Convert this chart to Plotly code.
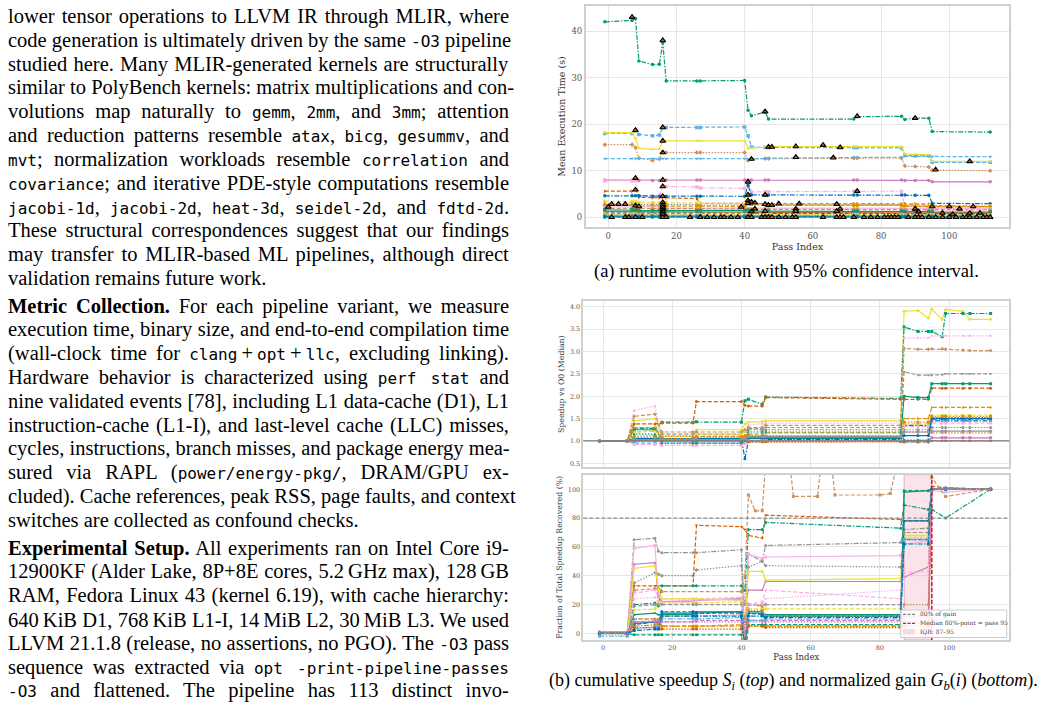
import plotly.graph_objects as go

W, H = 1040, 707
SERIF = "Liberation Serif"
MONO = "DejaVu Sans Mono"
PFONT = "DejaVu Serif"

# ---------------- left column text ----------------
def m(s):
    return f'<span style="font-family:{MONO};font-size:16px">{s}</span>'

PARA1 = [
    "lower tensor operations to LLVM IR through MLIR, where",
    f"code generation is ultimately driven by the same {m('-O3')} pipeline",
    "studied here. Many MLIR-generated kernels are structurally",
    "similar to PolyBench kernels: matrix multiplications and con-",
    f"volutions map naturally to {m('gemm')}, {m('2mm')}, and {m('3mm')}; attention",
    f"and reduction patterns resemble {m('atax')}, {m('bicg')}, {m('gesummv')}, and",
    f"{m('mvt')}; normalization workloads resemble {m('correlation')} and",
    f"{m('covariance')}; and iterative PDE-style computations resemble",
    f"{m('jacobi-1d')}, {m('jacobi-2d')}, {m('heat-3d')}, {m('seidel-2d')}, and {m('fdtd-2d')}.",
    "These structural correspondences suggest that our findings",
    "may transfer to MLIR-based ML pipelines, although direct",
    "validation remains future work.",
]
PARA2 = [
    "<b>Metric Collection.</b> For each pipeline variant, we measure",
    "execution time, binary size, and end-to-end compilation time",
    f"(wall-clock time for {m('clang')}\u2009+\u2009{m('opt')}\u2009+\u2009{m('llc')}, excluding linking).",
    f"Hardware behavior is characterized using {m('perf stat')} and",
    "nine validated events [78], including L1 data-cache (D1), L1",
    "instruction-cache (L1-I), and last-level cache (LLC) misses,",
    "cycles, instructions, branch misses, and package energy mea-",
    f"sured via RAPL ({m('power/energy-pkg/')}, DRAM/GPU ex-",
    "cluded). Cache references, peak RSS, page faults, and context",
    "switches are collected as confound checks.",
]
PARA3 = [
    "<b>Experimental Setup.</b> All experiments ran on Intel Core i9-",
    "12900KF (Alder Lake, 8P+8E cores, 5.2\u2009GHz max), 128\u2009GB",
    "RAM, Fedora Linux 43 (kernel 6.19), with cache hierarchy:",
    "640\u2009KiB D1, 768\u2009KiB L1-I, 14\u2009MiB L2, 30\u2009MiB L3. We used",
    f"LLVM 21.1.8 (release, no assertions, no PGO). The {m('-O3')} pass",
    f"sequence was extracted via {m('opt -print-pipeline-passes')}",
    f"{m('-O3')} and flattened. The pipeline has 113 distinct invo-",
]
CAPTION_A = "(a) runtime evolution with 95% confidence interval."
CAPTION_B = ("(b) cumulative speedup <i>S<sub>i</sub></i> (<i>top</i>) and normalized gain "
             "<i>G<sub>b</sub></i>(<i>i</i>) (<i>bottom</i>).")

# ---------------- (a) runtime evolution data ----------------
RT_PASS = [-1, 7, 8, 9, 13, 15, 16, 17, 26, 27, 40, 41, 42, 46, 47, 72, 73, 86, 87, 90, 94, 95, 112]
RT_01 = [42.0, 42.3, 42.7, 33.6, 32.8, 32.9, 37.5, 29.3, 29.3, 29.3, 29.4, 23.0, 21.8, 22.6, 21.1, 21.1, 21.6, 21.7, 21.0, 21.3, 21.3, 18.4, 18.3]
RT_02 = [18.0, 18.0, 18.6, 17.8, 17.5, 17.7, 19.3, 19.3, 19.3, 19.3, 19.4, 17.5, 15.1, 15.0, 15.0, 15.0, 15.0, 14.9, 13.3, 13.2, 13.2, 11.8, 11.8]
RT_03 = [18.2, 18.2, 17.0, 14.8, 14.6, 14.7, 16.4, 16.4, 16.4, 16.4, 16.4, 14.8, 14.9, 15.0, 15.2, 15.2, 15.2, 15.2, 13.6, 13.5, 13.4, 12.0, 12.0]
RT_04 = [15.6, 15.6, 15.0, 12.7, 12.2, 12.5, 13.9, 13.9, 13.9, 13.9, 13.9, 12.2, 12.5, 12.6, 12.6, 12.7, 12.7, 12.7, 11.0, 10.9, 10.8, 10.1, 10.0]
RT_05 = [12.6, 12.6, 12.6, 12.6, 12.6, 12.6, 12.6, 12.6, 12.6, 12.6, 12.6, 12.5, 12.6, 12.6, 12.7, 12.9, 12.9, 12.9, 13.1, 13.1, 13.1, 13.0, 13.0]
RT_06 = [8.0, 8.0, 8.0, 7.9, 7.9, 7.9, 8.0, 8.0, 8.0, 8.0, 8.0, 8.0, 8.0, 8.0, 8.0, 8.0, 8.0, 8.0, 7.9, 7.9, 7.9, 7.6, 7.6]
RT_07 = [7.8, 7.8, 7.9, 4.6, 4.5, 4.6, 6.6, 6.6, 6.5, 6.3, 6.2, 7.4, 5.4, 5.5, 5.5, 5.6, 5.6, 5.6, 1.6, 1.5, 1.5, 1.5, 1.5]
RT_08 = [5.6, 5.6, 5.9, 4.3, 4.2, 4.2, 4.3, 4.2, 4.0, 3.0, 3.0, 3.1, 3.0, 2.9, 2.9, 2.9, 2.9, 2.9, 2.9, 2.9, 2.8, 2.5, 2.3]
RT_09 = [4.6, 4.6, 4.6, 4.6, 4.5, 4.5, 4.5, 4.5, 4.5, 4.5, 4.5, 6.8, 4.8, 4.8, 4.8, 4.8, 4.8, 4.8, 4.8, 4.7, 4.7, 3.0, 2.9]
RT_10 = [3.4, 3.4, 3.3, 3.1, 3.1, 3.1, 3.2, 3.1, 3.0, 3.0, 3.0, 2.9, 2.8, 2.8, 2.7, 2.6, 2.6, 2.6, 2.5, 2.5, 2.5, 2.4, 2.4]
RT_11 = [2.9, 2.9, 2.8, 2.7, 2.7, 2.7, 2.8, 2.7, 2.7, 2.6, 2.6, 2.7, 2.6, 2.6, 2.6, 2.6, 2.6, 2.6, 2.4, 2.3, 2.3, 2.2, 2.2]
RT_12 = [2.6, 2.6, 2.5, 2.4, 2.4, 2.4, 2.5, 2.4, 2.4, 2.4, 2.3, 3.6, 3.2, 2.8, 2.6, 2.6, 2.6, 2.6, 2.4, 2.3, 2.3, 2.3, 2.3]
RT_13 = [2.2, 2.2, 2.2, 2.1, 2.1, 2.1, 2.2, 2.0, 2.0, 2.0, 2.0, 2.0, 2.0, 2.0, 2.0, 2.0, 2.0, 2.0, 1.9, 1.9, 1.9, 1.9, 1.9]
RT_14 = [1.9, 1.9, 1.8, 1.8, 1.8, 1.8, 1.8, 1.8, 1.8, 1.8, 1.8, 1.7, 1.7, 1.7, 1.7, 1.7, 1.7, 1.7, 1.6, 1.6, 1.6, 1.6, 1.6]
RT_15 = [1.6, 1.6, 1.5, 1.4, 1.4, 1.4, 1.5, 1.4, 1.4, 1.4, 1.4, 1.5, 1.3, 1.3, 1.3, 1.3, 1.3, 1.3, 1.2, 1.2, 1.2, 1.1, 1.1]
RT_16 = [1.2, 1.2, 1.2, 1.1, 1.1, 1.1, 1.1, 1.1, 1.1, 1.1, 1.1, 1.1, 1.0, 1.0, 1.0, 1.0, 1.0, 1.0, 0.9, 0.9, 0.9, 0.9, 0.9]
RT_17 = [0.9, 0.9, 0.9, 0.8, 0.8, 0.8, 0.9, 0.8, 0.8, 0.8, 0.8, 0.8, 0.8, 0.8, 0.8, 0.8, 0.8, 0.8, 0.7, 0.7, 0.7, 0.7, 0.7]
RT_18 = [0.7, 0.7, 0.7, 0.6, 0.6, 0.6, 0.7, 0.6, 0.6, 0.6, 0.6, 0.6, 0.6, 0.6, 0.6, 0.6, 0.6, 0.6, 0.5, 0.5, 0.5, 0.5, 0.5]
RT_19 = [0.5, 0.5, 0.5, 0.5, 0.5, 0.5, 0.5, 0.5, 0.5, 0.5, 0.5, 0.5, 0.4, 0.4, 0.4, 0.4, 0.4, 0.4, 0.4, 0.4, 0.4, 0.4, 0.4]
RT_20 = [0.4, 0.4, 0.4, 0.4, 0.4, 0.4, 0.4, 0.35, 0.35, 0.35, 0.35, 0.35, 0.35, 0.35, 0.35, 0.35, 0.35, 0.35, 0.3, 0.3, 0.3, 0.3, 0.3]
RT_21 = [0.3, 0.3, 0.3, 0.3, 0.3, 0.3, 0.3, 0.3, 0.3, 0.3, 0.3, 0.3, 0.25, 0.25, 0.25, 0.25, 0.25, 0.25, 0.25, 0.25, 0.25, 0.2, 0.2]
RT_22 = [0.2, 0.2, 0.2, 0.2, 0.2, 0.2, 0.2, 0.2, 0.2, 0.2, 0.2, 0.2, 0.2, 0.2, 0.2, 0.2, 0.2, 0.2, 0.15, 0.15, 0.15, 0.15, 0.15]
RT_23 = [0.12, 0.12, 0.12, 0.1, 0.1, 0.1, 0.1, 0.1, 0.1, 0.1, 0.1, 0.1, 0.1, 0.1, 0.1, 0.1, 0.1, 0.1, 0.1, 0.1, 0.1, 0.1, 0.1]
RT_24 = [0.05, 0.05, 0.05, 0.05, 0.05, 0.05, 0.05, 0.05, 0.05, 0.05, 0.05, 0.05, 0.05, 0.05, 0.05, 0.05, 0.05, 0.05, 0.05, 0.05, 0.05, 0.05, 0.05]
RT_SERIES = [RT_01, RT_02, RT_03, RT_04, RT_05, RT_06, RT_07, RT_08, RT_09, RT_10, RT_11, RT_12,
             RT_13, RT_14, RT_15, RT_16, RT_17, RT_18, RT_19, RT_20, RT_21, RT_22, RT_23, RT_24]

# significant-change markers (pass index, mean time)
SIG_PASS = [7, 16, 46, 73, 90, 8, 16, 16, 16, 42, 47, 48, 55, 63, 68, 55, 66, 96, 106,
            8, 16, 8, 16, 41, 16, 41, 46, 73,
            0, 1, 3, 5, 8, 9, 16, 16, 16, 16, 16, 16, 39, 41, 41, 42, 43, 42, 43, 46, 46, 47, 48,
            50, 55, 55, 56, 67, 67, 68, 90, 91, 95, 98, 100, 101, 103, 106, 107, 109,
            1, 5, 6, 8, 10, 16, 17, 24, 27, 29, 31, 33, 34, 36, 38, 41, 42, 45, 46, 47, 48, 50,
            52, 54, 55, 63, 67, 68, 69, 72, 75, 77, 79, 81, 82, 83, 84, 85, 88, 90, 91, 92, 94,
            96, 98, 100, 102, 104, 105, 106, 108, 110, 111, 112]
SIG_TIME = [43.0, 38.0, 22.7, 21.7, 21.3, 18.7, 19.3, 16.4, 13.9, 12.5, 15.1, 15.1, 15.2, 15.5, 15.0, 12.9, 12.8, 10.2, 12.0,
            8.4, 8.0, 5.9, 6.6, 7.6, 4.5, 4.8, 4.8, 5.6,
            2.2, 2.8, 2.8, 2.8, 2.5, 2.3, 3.2, 2.6, 2.1, 1.6, 1.1, 0.6, 2.2, 3.6, 3.0, 3.3, 3.1, 1.2, 1.8, 2.8, 1.3, 2.6, 2.6,
            2.9, 1.8, 1.3, 2.9, 1.3, 2.8, 1.8, 1.8, 1.2, 2.3, 0.9, 2.3, 0.6, 1.8, 0.9, 2.3, 0.9,
            0, 0, 0, 0, 0, 0, 0, 0, 0, 0, 0, 0, 0, 0, 0, 0, 0, 0, 0, 0, 0, 0,
            0, 0, 0, 0, 0, 0, 0, 0, 0, 0, 0, 0, 0, 0, 0, 0, 0, 0, 0, 0, 0,
            0, 0, 0, 0, 0, 0, 0, 0, 0, 0, 0]

# ---------------- (b, top) cumulative speedup ----------------
SP_PASS = [-1, 7, 9, 15, 17, 26, 27, 40, 41, 42, 46, 47, 86, 87, 91, 94, 95, 98, 99, 104, 106, 112]
SP_01 = [1.0, 1.0, 1.45, 1.5, 1.1, 1.1, 1.25, 1.25, 1.38, 1.42, 1.43, 1.45, 1.45, 3.9, 3.92, 3.75, 3.95, 3.72, 3.94, 3.9, 3.72, 3.72]
SP_02 = [1.0, 1.0, 1.28, 1.28, 1.42, 1.42, 1.43, 1.42, 1.9, 1.93, 1.82, 1.98, 1.95, 3.55, 3.45, 3.45, 3.45, 3.33, 3.85, 3.85, 3.85, 3.85]
SP_03 = [1.0, 1.0, 1.68, 1.78, 1.0, 0.95, 0.95, 0.95, 1.1, 1.35, 1.38, 1.4, 1.4, 3.3, 3.3, 3.3, 3.35, 3.35, 3.35, 3.35, 3.35, 3.35]
SP_04 = [1.0, 1.0, 1.55, 1.6, 1.2, 1.2, 1.2, 1.2, 1.25, 1.3, 1.3, 1.35, 1.35, 3.07, 3.05, 3.05, 3.06, 3.06, 3.05, 3.03, 3.02, 3.02]
SP_05 = [1.0, 1.0, 1.2, 1.22, 1.15, 1.15, 1.15, 1.15, 1.2, 1.28, 1.28, 1.3, 1.3, 2.55, 2.47, 2.47, 2.47, 2.48, 2.5, 2.5, 2.5, 2.5]
SP_06 = [1.0, 1.0, 1.38, 1.38, 1.4, 1.4, 1.88, 1.88, 1.8, 1.78, 1.78, 1.97, 1.93, 1.93, 1.93, 1.93, 2.18, 2.18, 2.18, 2.18, 2.18, 2.18]
SP_07 = [1.0, 1.0, 1.25, 1.25, 1.05, 1.05, 1.05, 1.05, 1.05, 1.05, 1.05, 1.05, 1.05, 2.0, 1.97, 1.97, 2.28, 2.28, 2.28, 2.28, 2.28, 2.28]
SP_08 = [1.0, 1.0, 1.3, 1.3, 1.1, 1.1, 1.1, 1.1, 1.12, 1.15, 1.15, 1.18, 1.18, 1.5, 1.5, 1.5, 1.75, 1.75, 1.75, 1.75, 1.75, 1.75]
SP_09 = [1.0, 1.0, 1.02, 1.02, 1.02, 1.02, 1.03, 1.03, 0.6, 1.0, 1.0, 1.03, 1.03, 1.35, 1.35, 1.35, 1.45, 1.45, 1.45, 1.45, 1.45, 1.45]
SP_10 = [1.0, 1.0, 1.0, 1.0, 1.0, 1.0, 1.0, 1.0, 1.0, 1.0, 1.0, 1.0, 1.0, 1.0, 1.0, 1.0, 1.07, 1.07, 1.07, 1.07, 1.07, 1.07]
SP_11 = [1.0, 1.0, 1.2, 1.22, 1.1, 1.1, 1.15, 1.15, 1.2, 1.25, 1.25, 1.25, 1.25, 1.38, 1.38, 1.38, 1.58, 1.58, 1.58, 1.58, 1.58, 1.58]
SP_12 = [1.0, 1.0, 0.95, 0.95, 0.95, 0.95, 0.95, 0.95, 0.95, 0.98, 0.98, 1.0, 1.0, 0.97, 0.97, 0.97, 1.48, 1.48, 1.48, 1.48, 1.48, 1.48]
SP_13 = [1.0, 1.0, 1.05, 1.05, 1.1, 1.1, 1.1, 1.1, 1.1, 1.12, 1.12, 1.12, 1.12, 1.2, 1.2, 1.2, 1.18, 1.18, 1.18, 1.18, 1.18, 1.18]
SP_14 = [1.0, 1.0, 1.1, 1.12, 1.05, 1.05, 1.05, 1.05, 1.05, 1.25, 1.25, 1.25, 1.25, 1.25, 1.25, 1.25, 1.3, 1.3, 1.3, 1.3, 1.3, 1.3]
SP_15 = [1.0, 1.0, 0.92, 0.92, 0.9, 0.9, 0.9, 0.9, 0.95, 1.0, 1.0, 1.0, 1.0, 1.32, 1.32, 1.32, 1.4, 1.4, 1.4, 1.4, 1.4, 1.4]
SP_16 = [1.0, 1.0, 1.15, 1.15, 0.95, 0.95, 0.95, 0.95, 1.0, 1.2, 1.2, 1.2, 1.2, 1.02, 1.02, 1.02, 1.52, 1.52, 1.52, 1.52, 1.52, 1.52]
SP_17 = [1.0, 1.0, 1.05, 1.05, 1.05, 1.05, 1.05, 1.05, 1.05, 1.07, 1.07, 1.07, 1.07, 1.12, 1.12, 1.12, 1.5, 1.5, 1.5, 1.5, 1.5, 1.5]
SP_18 = [1.0, 1.0, 1.08, 1.08, 1.05, 1.05, 1.08, 1.08, 1.1, 1.1, 1.1, 1.1, 1.1, 1.42, 1.42, 1.42, 1.55, 1.55, 1.55, 1.55, 1.55, 1.55]
SP_19 = [1.0, 1.0, 1.0, 1.0, 1.0, 1.0, 1.0, 1.0, 1.0, 0.97, 0.97, 0.97, 0.97, 0.98, 0.98, 0.98, 1.0, 1.0, 1.0, 1.0, 1.0, 1.0]
SP_20 = [1.0, 1.0, 1.03, 1.03, 1.03, 1.03, 1.03, 1.03, 1.05, 1.1, 1.1, 1.1, 1.1, 1.2, 1.2, 1.2, 1.22, 1.22, 1.22, 1.22, 1.22, 1.22]
SP_SERIES = [SP_01, SP_02, SP_03, SP_04, SP_05, SP_06, SP_07, SP_08, SP_09, SP_10,
             SP_11, SP_12, SP_13, SP_14, SP_15, SP_16, SP_17, SP_18, SP_19, SP_20]
SP_BASELINE = 1.0

# ---------------- (b, bottom) normalized gain ----------------
GN_PASS = [-1, 7, 9, 15, 16, 17, 26, 27, 40, 41, 42, 46, 47, 86, 87, 94, 95, 99, 112]
GN_01 = [0, 0, 65, 66, 57, 56, 56, 56, 58, -10, 55, 50, 61, 63, 72, 73, 100, 101, 100]
GN_02 = [1, 1, 59, 61, 25, 22, 23, 23, 24, -5, 55, 52, 53, 54, 62, 64, 99, 98, 100]
GN_03 = [1, 1, 48, 49, 25, 22, 22, 23, 24, 20, 30, 30, 36, 36, 39, 46, 100, 100, 100]
GN_04 = [-1, -1, 35, 42, 41, 40, 40, 44, 47, 20, 46, 50, 47, 46, 66, 66, 100, 101, 100]
GN_05 = [0, 0, 33, 33, 33, 33, 33, 75, 74, 72, 68, 66, 82, 79, 78, 78, 102, 101, 100]
GN_06 = [0, 0, 20, 21, 19, 33, 33, 33, 33, 30, 72, 72, 77, 73, 89, 86, 86, 80, 100]
# tan series wanders above the plotted range, so it keeps its own pass list
GN_07_PASS = [-1, 7, 9, 15, 16, 17, 40, 41, 42, 44, 46, 47, 54, 55, 62, 63, 66, 67, 80, 83, 85, 87, 94, 95, 99, 112]
GN_07 = [0, 0, 30, 31, 31, 29, 29, 40, 96, 85, 85, 118, 118, 95, 95, 118, 118, 96, 96, 97, 118, 118, 118, 108, 95, 100]
GN_08 = [1, 1, 28, 30, 25, 24, 24, 24, 25, 10, 20, 22, 30, 24, 42, 43, 100, 100, 100]
GN_09 = [0, 0, 45, 47, 30, 24, 24, 24, 23, 10, 43, 43, 37, 38, 68, 68, 100, 100, 100]
GN_10 = [0, 0, 16, 17, 22, 21, 21, 21, 22, 10, 17, 17, 17, 17, 67, 67, 100, 100, 100]
GN_11 = [0, 0, 13, 14, 13, 13, 13, 14, 15, 5, 14, 14, 13, 13, 98, 99, 100, 100, 100]
GN_12 = [0, 0, 6, 8, 7, 15, 15, 14, 14, 5, 14, 13, 12, 12, 65, 65, 100, 100, 100]
GN_13 = [0, 0, 7, 8, 8, 14, 14, 15, 15, 5, 15, 15, 12, 12, 78, 78, 100, 100, 100]
GN_14 = [1, 1, 8, 9, 9, 12, 12, 12, 13, 5, 16, 16, 12, 12, 20, 20, 100, 100, 100]
GN_15 = [0, 0, 5, 6, 6, 5, 5, 5, 5, 0, 20, 19, 5, 5, 7, 7, 100, 100, 100]
GN_16 = [0, 0, 8, 8, 7, 8, 8, 9, 9, 0, 9, 9, 9, 9, 12, 12, 100, 100, 100]
GN_17 = [0, 0, -1, -1, -1, -1, -1, -1, -1, -20, 6, 6, 6, 6, 99, 99, 100, 100, 100]
GN_18 = [-2, -2, 3, 5, 5, 10, 10, 10, 11, -10, 9, 9, 10, 10, 65, 65, 100, 100, 100]
GN_19 = [0, 0, 10, 10, 10, 5, 5, 5, 6, -5, 5, 5, 5, 5, 8, 8, 100, 100, 100]
GN_20 = [0, 0, 19, 20, 20, 20, 20, 20, 20, 10, 20, 20, 20, 20, 70, 70, 100, 100, 100]
GN_21 = [0, 0, 24, 25, 22, 22, 22, 23, 23, 5, 20, 20, 24, 30, 40, 40, 100, 100, 100]
GN_22 = [0, 0, 4, 4, 3, 3, 3, 3, 3, -5, 5, 5, 4, 4, 5, 5, 100, 100, 100]
GN_23 = [0, 0, 2, 3, 3, 12, 12, 12, 12, -10, 12, 12, 11, 11, 62, 62, 100, 100, 100]
GN_24 = [0, 0, 10, 10, 9, 8, 8, 8, 8, 0, 8, 8, 8, 8, 12, 12, 100, 100, 100]
GN_SERIES = [GN_01, GN_02, GN_03, GN_04, GN_05, GN_06, GN_07, GN_08, GN_09, GN_10, GN_11, GN_12,
             GN_13, GN_14, GN_15, GN_16, GN_17, GN_18, GN_19, GN_20, GN_21, GN_22, GN_23, GN_24]
GN_PASSES = [GN_PASS] * 6 + [GN_07_PASS] + [GN_PASS] * 17
GAIN_THRESHOLD = 80
MEDIAN_PASS = 95
IQR_PASS = [87, 95]
LEGEND_LABELS = ["80% of gain", "Median 80%-point = pass 95", "IQR: 87\u201395"]

# ---------------- styles ----------------
PAL = ['#0173B2', '#DE8F05', '#029E73', '#D55E00', '#CC78BC',
       '#CA9161', '#FBAFE4', '#949494', '#ECE133', '#56B4E9']
DASH = {'-': 'solid', '--': '4px,2px', '-.': '5px,1.5px,1.5px,1.5px', ':': '1.5px,1.5px'}
SYMS = ['circle', 'square', 'triangle-up', 'diamond', 'triangle-down', 'circle', 'square', 'triangle-right']
RT_STYLE = [(2, '-.'), (9, '--'), (8, '-'), (5, ':'), (9, '--'), (4, '-'), (6, '-.'), (3, '--'),
            (0, '-.'), (8, '--'), (7, ':'), (1, '--'), (6, '-'), (5, '--'), (2, '-'), (3, '-'),
            (0, '--'), (8, ':'), (1, ':'), (7, '-.'), (4, '--'), (9, '-'), (2, '--'), (0, '-')]
SP_STYLE = [(8, '-'), (2, '-.'), (6, ':'), (5, '--'), (7, '--'), (3, '--'), (2, '-'), (1, '--'),
            (0, '-.'), (4, '-'), (8, '--'), (9, '--'), (5, ':'), (7, ':'), (6, '--'), (2, ':'),
            (0, '-'), (1, ':'), (3, ':'), (7, '-')]
GN_STYLE = [(7, '-.'), (6, '-'), (4, '-'), (7, ':'), (3, '--'), (2, '-.'), (5, '--'), (6, '--'),
            (8, '-'), (8, '--'), (2, '-'), (0, '--'), (0, '-'), (5, ':'), (1, '-.'), (4, '--'),
            (2, '--'), (9, '-.'), (1, '--'), (7, '--'), (6, ':'), (3, ':'), (0, '-.'), (4, ':')]

fig = go.Figure()


def add_series(xss, series, styles, xa, ya, msize):
    for i, (xs, ys, (ci, ls)) in enumerate(zip(xss, series, styles)):
        fig.add_trace(go.Scatter(
            x=xs, y=ys, mode='lines+markers', xaxis=xa, yaxis=ya, showlegend=False,
            line=dict(color=PAL[ci], width=1.2, dash=DASH[ls]),
            marker=dict(color=PAL[ci], size=msize, symbol=SYMS[i % len(SYMS)], line=dict(width=0)),
            hoverinfo='skip'))


add_series([RT_PASS] * len(RT_SERIES), RT_SERIES, RT_STYLE, 'x', 'y', 3.5)
fig.add_trace(go.Scatter(
    x=SIG_PASS, y=SIG_TIME, mode='markers', xaxis='x', yaxis='y', showlegend=False,
    marker=dict(symbol='triangle-up', size=5, color='#b8641a', line=dict(color='black', width=1.1)),
    hoverinfo='skip'))
add_series([SP_PASS] * len(SP_SERIES), SP_SERIES, SP_STYLE, 'x2', 'y2', 3)
add_series(GN_PASSES, GN_SERIES, GN_STYLE, 'x3', 'y3', 3)

# ---------------- axes ----------------
GRID = '#e6e6e6'
FRAME = '#d0d0d0'


def ax(**kw):
    d = dict(showgrid=True, gridcolor=GRID, gridwidth=0.8, showline=True, linecolor=FRAME,
             linewidth=1.5, mirror=True, zeroline=False, ticks='')
    d.update(kw)
    return d


fig.update_layout(
    width=W, height=H, margin=dict(l=0, r=0, t=0, b=0),
    paper_bgcolor='white', plot_bgcolor='white', showlegend=False,
    xaxis=ax(domain=[585.7 / W, 1009.3 / W], range=[-6.6, 117.6], anchor='y', tick0=0, dtick=20,
             tickfont=dict(family=PFONT, size=8.5, color='#555'),
             title=dict(text='Pass Index', font=dict(family=PFONT, size=9.5, color='#333'), standoff=3)),
    yaxis=ax(domain=[1 - 227 / H, 1 - 6 / H], range=[-2.1, 45.4], anchor='x', tick0=0, dtick=10,
             tickfont=dict(family=PFONT, size=8.5, color='#555'),
             title=dict(text='Mean Execution Time (s)', font=dict(family=PFONT, size=9.5, color='#333'), standoff=4)),
    xaxis2=ax(domain=[583.3 / W, 1009.3 / W], range=[-5.7, 117.4], anchor='y2', tick0=0, dtick=20,
              showticklabels=False),
    yaxis2=ax(domain=[1 - 467.3 / H, 1 - 301 / H], range=[0.41, 4.13], anchor='x2', tick0=0.5, dtick=0.5,
              tickformat='.1f', tickfont=dict(family=PFONT, size=6.5, color='#555'),
              title=dict(text='Speedup vs O0 (Median)', font=dict(family=PFONT, size=7.8, color='#333'), standoff=4)),
    xaxis3=ax(domain=[583.3 / W, 1009.3 / W], range=[-5.7, 117.4], anchor='y3', tick0=0, dtick=20,
              tickfont=dict(family=PFONT, size=6.5, color='#555'),
              title=dict(text='Pass Index', font=dict(family=PFONT, size=8.5, color='#333'), standoff=2)),
    yaxis3=ax(domain=[1 - 640 / H, 1 - 474.7 / H], range=[-4.6, 110.1], anchor='x3', tick0=0, dtick=20,
              tickfont=dict(family=PFONT, size=6.5, color='#555'),
              title=dict(text='Fraction of Total Speedup Recovered (%)',
                         font=dict(family=PFONT, size=7.8, color='#333'), standoff=4)),
)

shapes = [
    dict(type='line', xref='x2 domain', yref='y2', x0=0, x1=1, y0=SP_BASELINE, y1=SP_BASELINE,
         line=dict(color='#7a7a7a', width=1.3), layer='above'),
    dict(type='rect', xref='x3', yref='y3 domain', x0=IQR_PASS[0], x1=IQR_PASS[1], y0=0, y1=1,
         fillcolor='rgba(228,120,150,0.2)', line=dict(color='rgba(200,60,100,0.45)', width=0.8), layer='below'),
    dict(type='line', xref='x3 domain', yref='y3', x0=0, x1=1, y0=GAIN_THRESHOLD, y1=GAIN_THRESHOLD,
         line=dict(color='#8a8a8a', width=1.3, dash='4px,2px'), layer='above'),
    dict(type='line', xref='x3', yref='y3 domain', x0=MEDIAN_PASS, x1=MEDIAN_PASS, y0=0, y1=1,
         line=dict(color='#d3173d', width=1.5, dash='4px,2px'), layer='above'),
    # legend box (drawn manually, like a compact matplotlib legend)
    dict(type='rect', xref='paper', yref='paper', x0=900.7 / W, x1=1006.7 / W, y0=1 - 637.5 / H, y1=1 - 610 / H,
         fillcolor='rgba(255,255,255,0.85)', line=dict(color='#cccccc', width=1), layer='above'),
    dict(type='line', xref='paper', yref='paper', x0=903 / W, x1=915 / W, y0=1 - 614.3 / H, y1=1 - 614.3 / H,
         line=dict(color='#8a8a8a', width=1.3, dash='3px,1.5px'), layer='above'),
    dict(type='line', xref='paper', yref='paper', x0=903 / W, x1=915 / W, y0=1 - 623.3 / H, y1=1 - 623.3 / H,
         line=dict(color='#d3173d', width=1.3, dash='3px,1.5px'), layer='above'),
    dict(type='rect', xref='paper', yref='paper', x0=903 / W, x1=915 / W, y0=1 - 634.5 / H, y1=1 - 629 / H,
         fillcolor='rgba(228,120,150,0.25)', line=dict(width=0), layer='above'),
]
fig.update_layout(shapes=shapes)

# ---------------- annotations ----------------
anns = []
JUST = []
LH = 23.8
y0 = 16.5
lines = []
for k, t in enumerate(PARA1):
    lines.append((t, y0 + LH * k, k < len(PARA1) - 1))
y1 = y0 + LH * (len(PARA1) - 1) + LH + 4
for k, t in enumerate(PARA2):
    lines.append((t, y1 + LH * k, k < len(PARA2) - 1))
y2 = y1 + LH * (len(PARA2) - 1) + LH + 4
for k, t in enumerate(PARA3):
    lines.append((t, y2 + LH * k, True))

for t, yc, j in lines:
    anns.append(dict(text=t, x=7.5 / W, y=1 - yc / H, xref='paper', yref='paper',
                     xanchor='left', yanchor='middle', align='left', showarrow=False,
                     borderpad=0, borderwidth=0,
                     font=dict(family=SERIF, size=20.5, color='black')))
    JUST.append(1 if j else 0)

anns.append(dict(text=CAPTION_A, x=786 / W, y=1 - 271 / H, xref='paper', yref='paper',
                 xanchor='center', yanchor='middle', showarrow=False,
                 font=dict(family=SERIF, size=18.5, color='black')))
anns.append(dict(text=CAPTION_B, x=793 / W, y=1 - 681 / H, xref='paper', yref='paper',
                 xanchor='center', yanchor='middle', showarrow=False,
                 font=dict(family=SERIF, size=18, color='black')))
for lab, yc in zip(LEGEND_LABELS, [614.3, 623.3, 631.7]):
    anns.append(dict(text=lab, x=919 / W, y=1 - yc / H, xref='paper', yref='paper',
                     xanchor='left', yanchor='middle', showarrow=False, borderpad=0,
                     font=dict(family=PFONT, size=6, color='#444')))
fig.update_layout(annotations=anns)

TARGET_W = 501
js = """
try {
  var gd = document.getElementById('{plot_id}');
  var JUST = %s;
  var TARGET = %d;
  var groups = gd.querySelectorAll('g.annotation');
  for (var i = 0; i < groups.length; i++) {
    var g = groups[i];
    var idx = parseInt(g.getAttribute('data-index'));
    if (!(idx < JUST.length) || !JUST[idx]) continue;
    var t = g.querySelector('text.annotation-text');
    if (!t) continue;
    t.style.wordSpacing = '0px';
    var w = t.getBBox().width;
    var n = (t.textContent.match(/[ \\u00a0]/g) || []).length;
    if (n > 0 && w < TARGET) t.style.wordSpacing = ((TARGET - w) / n) + 'px';
  }
} catch (e) {}
""" % (str(JUST), TARGET_W)

fig.write_html("out.html", post_script=js)
